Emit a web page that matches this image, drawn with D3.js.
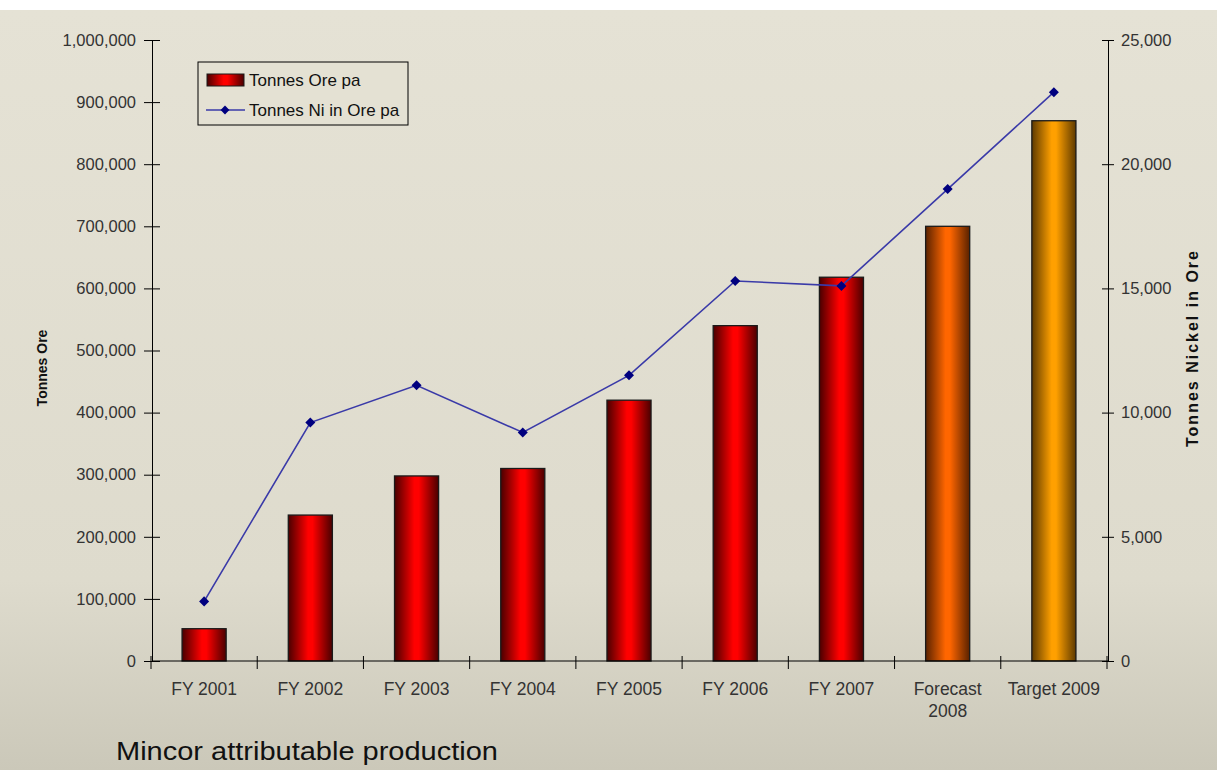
<!DOCTYPE html>
<html>
<head>
<meta charset="utf-8">
<script src="https://cdn.jsdelivr.net/npm/d3@7"></script>
<style>
  html, body { margin: 0; padding: 0; background: #ffffff; }
  svg { display: block; }
  text { font-family: "Liberation Sans", Arial, sans-serif; }
</style>
</head>
<body>
<svg id="chart" width="1217" height="770"></svg>
<script>
// Mincor attributable production: ore tonnes (bars) and contained nickel (line)
const categories = ["FY 2001", "FY 2002", "FY 2003", "FY 2004", "FY 2005", "FY 2006", "FY 2007", "Forecast\n2008", "Target 2009"];
const oreTonnes = [52000, 235000, 298000, 310000, 420000, 540000, 618000, 700000, 870000];
const nickelTonnes = [2400, 9600, 11100, 9200, 11500, 15300, 15100, 19000, 22900];
const barKinds = ["actual", "actual", "actual", "actual", "actual", "actual", "actual", "forecast", "target"];
const leftTicks = [0, 100000, 200000, 300000, 400000, 500000, 600000, 700000, 800000, 900000, 1000000];
const rightTicks = [0, 5000, 10000, 15000, 20000, 25000];

const W = 1217, H = 770;
const plot = { left: 152, right: 1108, top: 40, bottom: 661 };

const svg = d3.select("#chart");
const defs = svg.append("defs");

// Background: warm beige panel, a touch darker toward the bottom
const bg = defs.append("linearGradient").attr("id", "bg").attr("x1", 0).attr("y1", 0).attr("x2", 0).attr("y2", 1);
bg.append("stop").attr("offset", "0%").attr("stop-color", "#e5e2d5");
bg.append("stop").attr("offset", "75%").attr("stop-color", "#dedbcd");
bg.append("stop").attr("offset", "100%").attr("stop-color", "#cbc8b9");
svg.append("rect").attr("x", 0).attr("y", 10).attr("width", W).attr("height", H - 10).attr("fill", "url(#bg)");

// Cylinder-like horizontal shading for the bars
const barColors = {
  actual:   { edge: "#4a0000", mid: "#ff0000" },
  forecast: { edge: "#5a2200", mid: "#ff6600" },
  target:   { edge: "#5e3a00", mid: "#ffa000" }
};
Object.entries(barColors).forEach(([k, c]) => {
  const g = defs.append("linearGradient").attr("id", "grad-" + k).attr("x1", 0).attr("y1", 0).attr("x2", 1).attr("y2", 0);
  g.append("stop").attr("offset", "0%").attr("stop-color", c.edge);
  g.append("stop").attr("offset", "45%").attr("stop-color", c.mid);
  g.append("stop").attr("offset", "55%").attr("stop-color", c.mid);
  g.append("stop").attr("offset", "100%").attr("stop-color", c.edge);
});

// Scales
const x = d3.scaleBand().domain(categories).range([plot.left, plot.right]).paddingInner(0.585).paddingOuter(0.2925);
const xTickBand = d3.scaleBand().domain(categories).range([plot.left, plot.right]).padding(0);
const yL = d3.scaleLinear().domain([0, 1000000]).range([plot.bottom, plot.top]);
const yR = d3.scaleLinear().domain([0, 25000]).range([plot.bottom, plot.top]);
const fmt = d3.format(",");

// Bars
svg.append("g").selectAll("rect").data(categories).join("rect")
  .attr("x", d => x(d) - 1)
  .attr("y", (d, i) => yL(oreTonnes[i]))
  .attr("width", x.bandwidth())
  .attr("height", (d, i) => plot.bottom - yL(oreTonnes[i]))
  .attr("fill", (d, i) => `url(#grad-${barKinds[i]})`)
  .attr("stroke", "#1a1a1a").attr("stroke-width", 1.3);

// Left axis
const axisL = svg.append("g").attr("transform", `translate(${plot.left},0)`)
  .call(d3.axisLeft(yL).tickValues(leftTicks).tickFormat(fmt).tickSizeInner(8).tickSizeOuter(0).tickPadding(8));
axisL.selectAll(".tick line").attr("x2", 8).attr("x1", -8);
// Right axis
const axisR = svg.append("g").attr("transform", `translate(${plot.right},0)`)
  .call(d3.axisRight(yR).tickValues(rightTicks).tickFormat(fmt).tickSizeInner(6).tickSizeOuter(0).tickPadding(7));
axisR.selectAll(".tick line").attr("x1", -6).attr("x2", 6);
// Bottom axis: ticks between categories
const xBoundaries = categories.map(c => xTickBand(c)).concat([plot.right]);
const axisB = svg.append("g");
axisB.append("line").attr("x1", plot.left).attr("x2", plot.right).attr("y1", plot.bottom).attr("y2", plot.bottom).attr("stroke", "#000");
axisB.selectAll("line.tk").data(xBoundaries).join("line").attr("class", "tk")
  .attr("x1", d => d - 1).attr("x2", d => d - 1).attr("y1", plot.bottom - 5).attr("y2", plot.bottom + 8).attr("stroke", "#000");
axisB.selectAll("text").data(categories).join("text")
  .attr("x", d => xTickBand(d) + xTickBand.bandwidth() / 2 - 1)
  .attr("y", 695)
  .attr("text-anchor", "middle").attr("font-size", 17.5).attr("fill", "#333")
  .each(function (d) {
    const lines = d.split("\n");
    d3.select(this).selectAll("tspan").data(lines).join("tspan")
      .attr("x", d3.select(this).attr("x"))
      .attr("dy", (l, i) => i === 0 ? 0 : 22)
      .text(l => l);
  });

[axisL, axisR].forEach(a => {
  a.select(".domain").attr("stroke", "#000");
  a.selectAll(".tick line").attr("stroke", "#000");
  a.selectAll(".tick text").attr("font-size", 16.5).attr("fill", "#333").attr("font-family", "Liberation Sans, Arial, sans-serif");
});

// Nickel line with diamond markers
const cx = d => x(d) + x.bandwidth() / 2 - 1;
const line = d3.line().x((d, i) => cx(categories[i])).y(d => yR(d));
svg.append("path").datum(nickelTonnes).attr("d", line)
  .attr("fill", "none").attr("stroke", "#3a3aa8").attr("stroke-width", 1.6);
svg.append("g").selectAll("path").data(nickelTonnes).join("path")
  .attr("d", d3.symbol(d3.symbolDiamond2, 64))
  .attr("transform", (d, i) => `translate(${cx(categories[i])},${yR(d)})`)
  .attr("fill", "#00007f");

// Axis titles
svg.append("text").attr("transform", "translate(47,368) rotate(-90)").attr("text-anchor", "middle")
  .attr("font-size", 14).attr("font-weight", "bold").attr("fill", "#111").text("Tonnes Ore");
svg.append("text").attr("transform", "translate(1198,348) rotate(-90)").attr("text-anchor", "middle")
  .attr("font-size", 16).attr("letter-spacing", 2).attr("font-weight", "bold").attr("fill", "#111").text("Tonnes Nickel in Ore");

// Legend
const lg = svg.append("g").attr("transform", "translate(198,62)");
lg.append("rect").attr("width", 210).attr("height", 63).attr("fill", "#e4e1d3").attr("stroke", "#000").attr("stroke-width", 1);
lg.append("rect").attr("x", 9).attr("y", 12).attr("width", 37).attr("height", 12)
  .attr("fill", "url(#grad-actual)").attr("stroke", "#1a1a1a");
lg.append("text").attr("x", 51).attr("y", 24).attr("font-size", 17).attr("fill", "#111").text("Tonnes Ore pa");
lg.append("line").attr("x1", 8).attr("x2", 47).attr("y1", 48).attr("y2", 48).attr("stroke", "#3a3aa8").attr("stroke-width", 1.6);
lg.append("path").attr("d", d3.symbol(d3.symbolDiamond2, 50)).attr("transform", "translate(27,48)").attr("fill", "#00007f");
lg.append("text").attr("x", 51).attr("y", 54).attr("font-size", 17).attr("fill", "#111").text("Tonnes Ni in Ore pa");

// Caption
svg.append("text").attr("x", 116).attr("y", 760).attr("font-size", 26)
  .attr("textLength", 382).attr("lengthAdjust", "spacingAndGlyphs").attr("fill", "#111")
  .text("Mincor attributable production");
</script>
</body>
</html>
